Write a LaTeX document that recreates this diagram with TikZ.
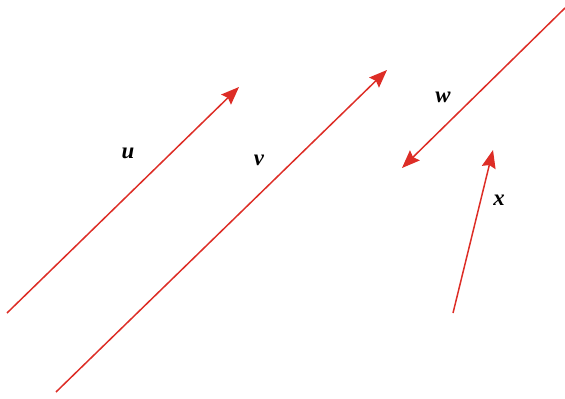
\documentclass[tikz,border=0pt]{standalone}
\usepackage{fontspec}
\setmainfont{Liberation Serif}
\usetikzlibrary{arrows.meta}
\definecolor{vecred}{RGB}{221,45,38}

\begin{document}
\begin{tikzpicture}[
    x=0.02cm, y=-0.02cm,
    vec/.style={vecred, line width=0.85pt, -{Stealth[length=0.36cm, width=0.28cm, inset=0.05cm]}}, % Style for the vectors
    lab/.style={font=\fontsize{13}{15}\selectfont\bfseries\itshape, inner sep=0pt} % Style for the letters
]
\useasboundingbox (0,0) rectangle (565,399);

% Ends of the vectors
\coordinate (uS) at (7,313);
\coordinate (uE) at (239,87);
\coordinate (vS) at (56,392);
\coordinate (vE) at (387,70);
\coordinate (wS) at (565,8);
\coordinate (wE) at (402,168);
\coordinate (xS) at (453,313);
\coordinate (xE) at (493,150);

% Vectors
\draw[vec] (uS) -- (uE);
\draw[vec] (vS) -- (vE);
\draw[vec] (wS) -- (wE);
\draw[vec] (xS) -- (xE);

% Labels
\node[lab] (u) at (128,153) {u};
\node[lab] (v) at (259,160) {v};
\node[lab] (w) at (443,97) {w};
\node[lab] (x) at (499,200) {x};

\end{tikzpicture}
\end{document}
